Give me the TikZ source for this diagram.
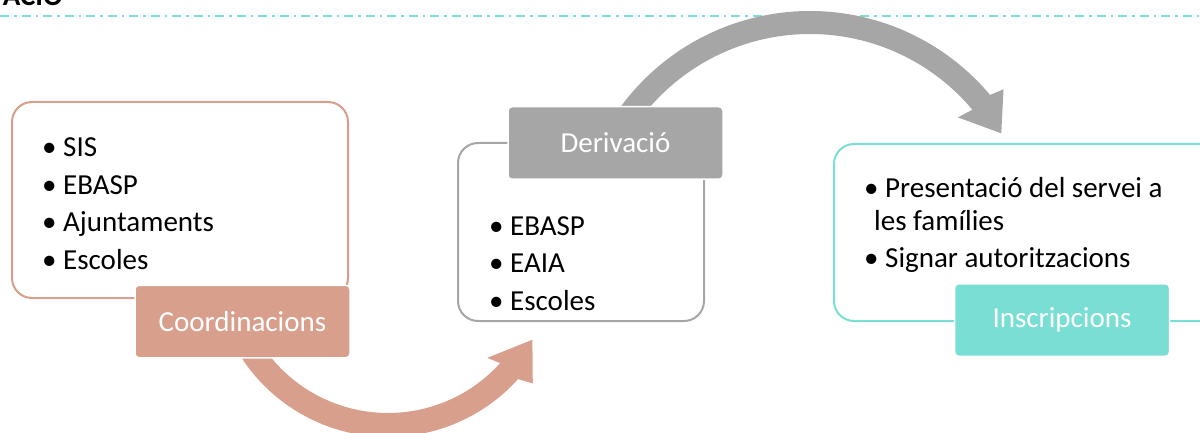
\documentclass[tikz,border=0pt]{standalone}
\usepackage{fontspec}
\setmainfont{Carlito}
\definecolor{salmo}{HTML}{D79F8C}
\definecolor{gris}{HTML}{A6A6A6}
\definecolor{turquesa}{HTML}{79DFD4}
\newcommand{\vinyeta}{\textbullet\ }
\tikzset{
  caixa/.style={draw=#1, line width=2pt, rounded corners=20pt, fill=white, anchor=north west},
  etiqueta/.style={fill=#1, draw=white, line width=1.5pt, rounded corners=4pt, text=white,
    minimum width=215pt, minimum height=72.5pt, font=\fontsize{29}{35}\selectfont},
  punt/.style={anchor=base west, inner sep=0pt, font=\fontsize{29}{35}\selectfont}
}
\begin{document}
\begin{tikzpicture}[x=1pt,y=-1pt]
  \useasboundingbox (0,0) rectangle (1200,433);
  \clip (0,0) rectangle (1200,433);

  % capcalera
  \node[anchor=base east, inner sep=0pt, font=\fontsize{29}{35}\selectfont\bfseries] (titol) at (63,6) {ACIÓ};
  \draw[turquesa, line width=2pt, dash pattern=on 9pt off 5pt on 2.5pt off 5pt] (0,16) -- (1200,16);

  % fletxes corbes
  \coordinate (ca) at (388,262);
  \coordinate (cb) at (810,246);
  \fill[salmo] ([shift={(ca)}]150:151) arc[start angle=150, end angle=42, radius=151]
    -- ([shift={(ca)}]44:138) -- ([shift={(ca)}]28.3:164) -- ([shift={(ca)}]40:189)
    -- ([shift={(ca)}]42:175) arc[start angle=42, end angle=150, radius=175] -- cycle;
  \fill[gris] ([shift={(cb)}]210:212) arc[start angle=210, end angle=320, radius=212]
    -- ([shift={(cb)}]319:196) -- ([shift={(cb)}]329.5:222) -- ([shift={(cb)}]321:249)
    -- ([shift={(cb)}]320:235) arc[start angle=320, end angle=210, radius=235] -- cycle;

  % caixes
  \node[caixa=salmo, minimum width=336pt, minimum height=196pt] (coord) at (11,101) {};
  \node[caixa=gris, minimum width=246pt, minimum height=178pt] (deriv) at (457,142) {};
  \node[caixa=turquesa, minimum width=410pt, minimum height=177pt] (inscr) at (833,143) {};

  % llistes
  \foreach \t [count=\i] in {SIS,EBASP,Ajuntaments,Escoles}
    \node[punt] (c\i) at (42,{119.5+37.4*\i}) {\vinyeta\t};
  \foreach \t [count=\i] in {EBASP,EAIA,Escoles}
    \node[punt] (d\i) at (489,{197.5+37.5*\i}) {\vinyeta\t};
  \node[punt] (i1) at (864,197) {\vinyeta Presentació del servei a};
  \node[punt] (i2) at (874,230) {les famílies};
  \node[punt] (i3) at (864,267) {\vinyeta Signar autoritzacions};

  % etiquetes
  \node[etiqueta=salmo] (lcoord) at (242.5,321.5) {Coordinacions};
  \node[etiqueta=gris] (lderiv) at (615.5,143) {Derivació};
  \node[etiqueta=turquesa] (linscr) at (1062,320) {Inscripcions};
\end{tikzpicture}
\end{document}
